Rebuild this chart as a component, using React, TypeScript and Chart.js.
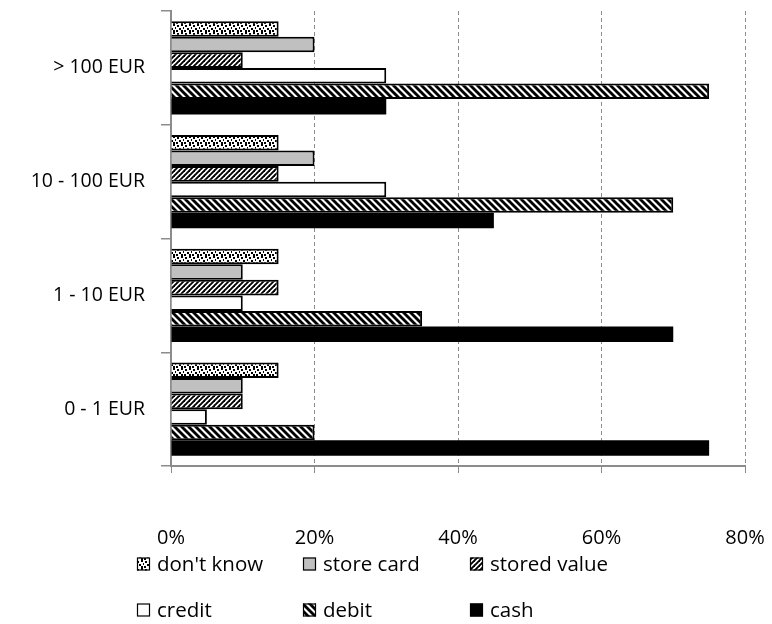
import React, { useEffect, useRef } from 'react';
import { Chart, registerables } from 'chart.js';

Chart.register(...registerables);

// Payment instrument used, by transaction size (share of respondents, %)
const categories = ['> 100 EUR', '10 - 100 EUR', '1 - 10 EUR', '0 - 1 EUR'];
const seriesNames = ["don't know", 'store card', 'stored value', 'credit', 'debit', 'cash'];
const dontKnow = [15, 15, 15, 15];
const storeCard = [20, 20, 10, 10];
const storedValue = [10, 15, 15, 10];
const credit = [30, 30, 10, 5];
const debit = [75, 70, 35, 20];
const cash = [30, 45, 70, 75];
const xTickValues = [0, 20, 40, 60, 80];

const FONT = '"Open Sans", "Noto Sans", sans-serif';
const AXIS_GREY = '#8c8c8c';

function makeTile(size: number, draw: (g: CanvasRenderingContext2D) => void): CanvasPattern {
  const c = document.createElement('canvas');
  c.width = size;
  c.height = size;
  const g = c.getContext('2d')!;
  g.fillStyle = '#fff';
  g.fillRect(0, 0, size, size);
  draw(g);
  return g.createPattern(c, 'repeat')!;
}

function stripes(size: number, width: number, forward: boolean): CanvasPattern {
  return makeTile(size, (g) => {
    g.strokeStyle = '#000';
    g.lineWidth = width;
    g.lineCap = 'square';
    for (const k of [-size, 0, size]) {
      g.beginPath();
      if (forward) {
        g.moveTo(k, size);
        g.lineTo(k + size, 0);
      } else {
        g.moveTo(k, 0);
        g.lineTo(k + size, size);
      }
      g.stroke();
    }
  });
}

function confetti(): CanvasPattern {
  return makeTile(8, (g) => {
    g.fillStyle = '#000';
    const dots = [
      [1, 1],
      [5, 0],
      [3, 4],
      [7, 3],
      [0, 6],
      [5, 6],
    ];
    for (const [x, y] of dots) g.fillRect(x, y, 2, 2);
  });
}

// Legend laid out as a fixed three-column grid below the axis
const gridLegend = {
  id: 'gridLegend',
  afterDraw(chart: any) {
    const ctx: CanvasRenderingContext2D = chart.ctx;
    const cols = [137, 303, 470];
    const rows = [564, 610];
    chart.data.datasets.forEach((ds: any, i: number) => {
      const x = cols[i % 3];
      const y = rows[Math.floor(i / 3)];
      ctx.save();
      ctx.fillStyle = ds.backgroundColor;
      ctx.fillRect(x, y - 6.5, 13, 13);
      ctx.strokeStyle = '#000';
      ctx.lineWidth = 1.2;
      ctx.strokeRect(x + 0.5, y - 6, 12, 12);
      ctx.fillStyle = '#000';
      ctx.font = `20.5px ${FONT}`;
      ctx.textBaseline = 'middle';
      ctx.textAlign = 'left';
      ctx.fillText(ds.label, x + 20, y + 1);
      ctx.restore();
    });
  },
};

export default function App() {
  const canvasRef = useRef<HTMLCanvasElement | null>(null);

  useEffect(() => {
    if (!canvasRef.current) return;
    const fills = [
      confetti(),
      '#c0c0c0',
      stripes(5, 1.9, true),
      '#ffffff',
      stripes(7, 2.8, false),
      '#000000',
    ];
    const values = [dontKnow, storeCard, storedValue, credit, debit, cash];

    const chart = new Chart(canvasRef.current, {
      type: 'bar',
      data: {
        labels: categories,
        datasets: seriesNames.map((name, i) => ({
          label: name,
          data: values[i],
          backgroundColor: fills[i] as any,
          borderColor: '#000',
          // solid black bars need no separate outline
          borderWidth: i === 5 ? 0 : 2,
          categoryPercentage: 0.82,
          barPercentage: 1,
        })),
      },
      options: {
        indexAxis: 'y',
        animation: false,
        responsive: true,
        maintainAspectRatio: false,
        layout: { padding: { top: 11, right: 27, left: 0, bottom: 0 } },
        plugins: {
          legend: { display: false },
          tooltip: { enabled: false },
        },
        scales: {
          x: {
            min: 0,
            max: 80,
            afterBuildTicks: (scale: any) => {
              scale.ticks = xTickValues.map((v) => ({ value: v }));
            },
            afterFit: (scale: any) => {
              scale.height = 158;
              scale.paddingLeft = 0;
              scale.paddingRight = 0;
            },
            ticks: {
              color: '#000',
              font: { family: FONT, size: 20 },
              padding: 53,
              callback: (v: any) => `${v}%`,
            },
            grid: {
              color: AXIS_GREY,
              lineWidth: 1,
              tickLength: 7,
            },
            border: { color: AXIS_GREY, width: 2, dash: [4, 3] },
          },
          y: {
            afterFit: (scale: any) => {
              scale.width = 171;
              scale.paddingTop = 0;
              scale.paddingBottom = 0;
            },
            ticks: {
              color: '#000',
              font: { family: FONT, size: 19.5 },
              padding: 16,
            },
            grid: {
              offset: true,
              drawOnChartArea: false,
              color: AXIS_GREY,
              lineWidth: 1.5,
              tickLength: 10,
            },
            border: { color: AXIS_GREY, width: 2 },
          },
        },
      },
      plugins: [gridLegend],
    });

    if ((document as any).fonts?.ready) {
      (document as any).fonts.ready.then(() => chart.update());
    }

    return () => chart.destroy();
  }, []);

  return (
    <div style={{ position: 'fixed', left: 0, top: 0, width: 772, height: 624, background: '#fff' }}>
      <canvas ref={canvasRef} />
    </div>
  );
}
